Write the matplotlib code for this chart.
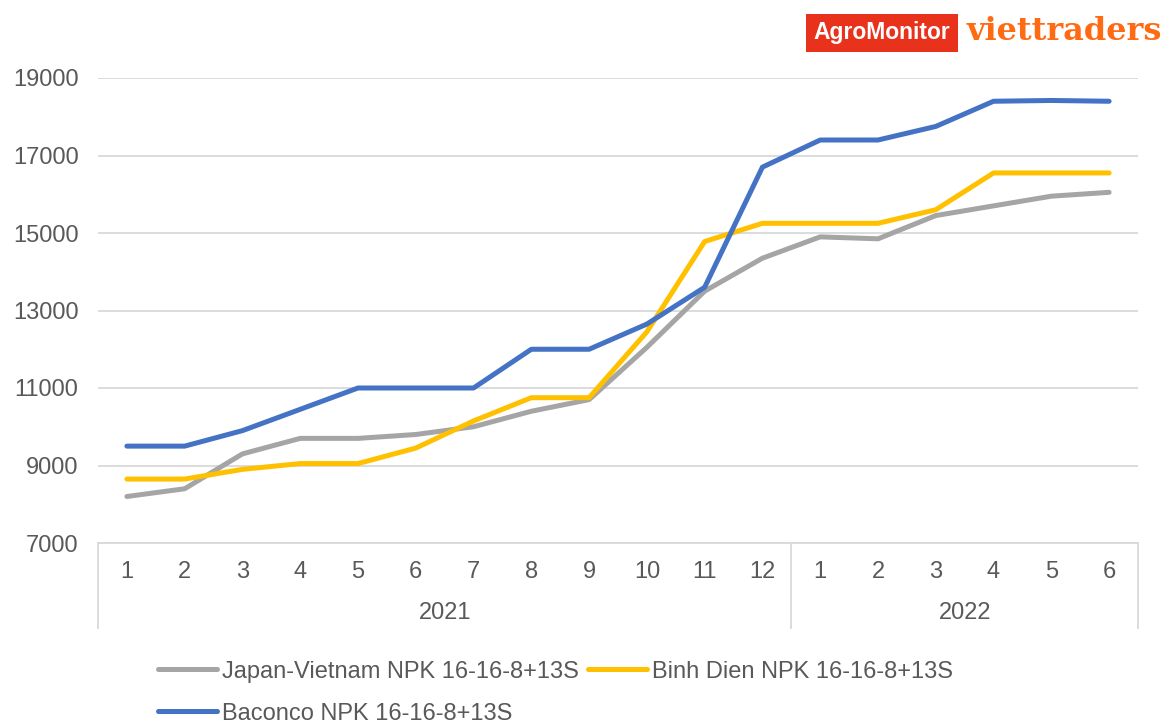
import matplotlib.pyplot as plt
import matplotlib.transforms as mtransforms

plt.rcParams['font.family'] = ['Liberation Sans', 'DejaVu Sans']

# data (VND/bag, monthly)
months = ['1', '2', '3', '4', '5', '6', '7', '8', '9', '10', '11', '12',
          '1', '2', '3', '4', '5', '6']
years = ['2021', '2022']
year_len = [12, 6]

japan_vn = [8200, 8400, 9300, 9700, 9700, 9800, 10000, 10400, 10700, 12050, 13500, 14350,
            14900, 14850, 15450, 15700, 15950, 16050]
binh_dien = [8650, 8650, 8900, 9050, 9050, 9450, 10150, 10750, 10750, 12450, 14780, 15250,
             15250, 15250, 15600, 16550, 16550, 16550]
baconco = [9500, 9500, 9900, 10450, 11000, 11000, 11000, 12000, 12000, 12650, 13600, 16700,
           17400, 17400, 17750, 18400, 18420, 18400]

labels = ['Japan-Vietnam NPK 16-16-8+13S', 'Binh Dien NPK 16-16-8+13S', 'Baconco NPK 16-16-8+13S']
colors = ['#A5A5A5', '#FFC000', '#4472C4']

txt = '#595959'
grid = '#D9D9D9'
fs = 17

fig = plt.figure(figsize=(11.64, 7.22), dpi=100)
ax = fig.add_axes([98/1164, 1 - 543/722, (1138-98)/1164, 465/722])

x = list(range(len(months)))
lines = []
for serie, lab, col in zip([japan_vn, binh_dien, baconco], labels, colors):
    ln, = ax.plot(x, serie, color=col, lw=3.6, label=lab, solid_capstyle='round', solid_joinstyle='round')
    lines.append(ln)

ax.set_xlim(-0.5, len(months) - 0.5)
ax.set_ylim(7000, 19000)
ax.set_yticks(range(7000, 19001, 2000))
ax.yaxis.grid(True, color=grid, lw=1.3)
ax.set_axisbelow(True)
for s in ['top', 'right', 'left']:
    ax.spines[s].set_visible(False)
ax.spines['bottom'].set_color(grid)
ax.spines['bottom'].set_linewidth(1.3)
ax.tick_params(axis='y', length=0, pad=14, labelsize=fs, labelcolor=txt)
ax.set_xticks([])

# two level category axis
trans = mtransforms.blended_transform_factory(ax.transData, ax.transAxes)
for i, m in enumerate(months):
    ax.text(i, -29/465, m, transform=trans, ha='center', va='center', fontsize=fs, color=txt)
start = 0
bounds = [-0.5]
for y, n in zip(years, year_len):
    ax.text(start + (n - 1) / 2, -70/465, y, transform=trans, ha='center', va='center',
            fontsize=fs, color=txt)
    start += n
    bounds.append(start - 0.5)
for b in bounds:
    ax.plot([b, b], [0, -85/465], transform=trans, color=grid, lw=1.3, clip_on=False)

# legend
fig.legend(handles=[lines[0], lines[2], lines[1]], labels=[labels[0], labels[2], labels[1]],
           ncol=2, loc='upper left', bbox_to_anchor=(158/1164, 0.085), frameon=False,
           fontsize=fs, labelcolor=txt, handlelength=2.5, handletextpad=0.2,
           columnspacing=0.4, labelspacing=0.85, borderpad=0, borderaxespad=0)

# logos
fig.text(882/1164, 1 - 33/722, 'AgroMonitor', ha='center', va='center', fontsize=16.5,
         fontweight='bold', color='white',
         bbox=dict(boxstyle='square,pad=0.32', fc='#E8321C', ec='none'))
fig.text(1162/1164, 1 - 40/722, 'viettraders', ha='right', va='baseline', fontsize=23,
         fontweight='bold', family='DejaVu Serif', color='#FF6A13')

fig.savefig('out.png', dpi=100)
